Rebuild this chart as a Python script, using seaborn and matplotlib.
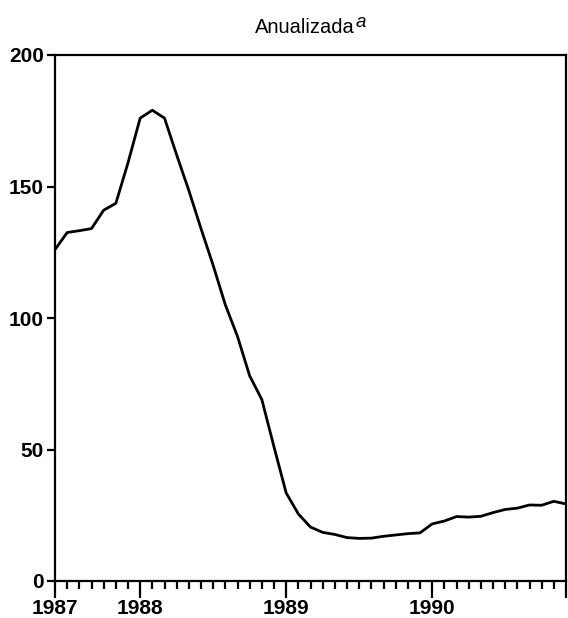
import matplotlib
matplotlib.use("Agg")
import matplotlib.pyplot as plt
import seaborn as sns
import pandas as pd
import numpy as np
from matplotlib.ticker import FixedLocator, FixedFormatter

# ---- data (monthly, June 1987 .. December 1990) ----
start_month = "1987-06"
values = [126, 132.5, 133.2, 134, 141, 143.6, 159, 176, 179, 176,
          162, 148.5, 134, 120, 105, 93, 78, 69, 51, 33.5,
          25.5, 20.5, 18.5, 17.7, 16.5, 16.2, 16.3, 17, 17.5, 18,
          18.3, 21.7, 22.8, 24.5, 24.3, 24.6, 26, 27.2, 27.7, 28.9,
          28.8, 30.3, 29.3]
year_labels = ["1987", "1988", "1989", "1990"]
year_label_months = ["1987-06", "1988-01", "1989-01", "1990-01"]
y_ticks = [0, 50, 100, 150, 200]
title_text = "Anualizada"
title_note = "a"

dates = pd.period_range(start_month, periods=len(values), freq="M")
p0 = pd.Period(start_month, freq="M")
month_idx = [(d - p0).n for d in dates]
df = pd.DataFrame({"m": month_idx, "v": values})

sns.set_theme(style="ticks")
plt.rcParams["font.family"] = ["Liberation Sans", "DejaVu Sans"]

fig = plt.figure(figsize=(5.68, 6.18), dpi=100)
ax = fig.add_axes([55/568, 1 - 581/618, (566 - 55)/568, (581 - 55)/618])

sns.lineplot(data=df, x="m", y="v", ax=ax, color="black", linewidth=2.0)

last = month_idx[-1]
ax.set_xlim(0, last)
ax.set_ylim(0, 200)

major_pos = [(pd.Period(s, freq="M") - p0).n for s in year_label_months] + [last]
ax.xaxis.set_major_locator(FixedLocator(major_pos))
ax.xaxis.set_major_formatter(FixedFormatter(year_labels + [""]))
ax.xaxis.set_minor_locator(FixedLocator(month_idx))
ax.set_yticks(y_ticks)
ax.set_yticklabels([str(t) for t in y_ticks])

ax.set_xlabel("")
ax.set_ylabel("")

for s in ax.spines.values():
    s.set_visible(True)
    s.set_linewidth(1.6)
    s.set_color("black")

ax.tick_params(axis="x", which="major", direction="out", length=12, width=1.6,
               pad=1, labelsize=15, colors="black")
ax.tick_params(axis="x", which="minor", direction="out", length=6, width=1.6,
               colors="black")
ax.tick_params(axis="y", which="major", direction="out", length=6, width=1.6,
               pad=2, labelsize=15, colors="black")
for lab in ax.get_xticklabels() + ax.get_yticklabels():
    lab.set_fontweight("bold")

t = ax.annotate(title_text, xy=(0.5, 1.0), xycoords="axes fraction",
                xytext=(-4, 16), textcoords="offset points",
                ha="center", va="baseline", fontsize=14.5, color="black")
ax.annotate(title_note, xy=(1.0, 1.0), xycoords=t,
            xytext=(0.5, 3), textcoords="offset points",
            ha="left", va="top", fontsize=13.5, style="italic", color="black")

fig.savefig("out.png", dpi=100, facecolor="white")
